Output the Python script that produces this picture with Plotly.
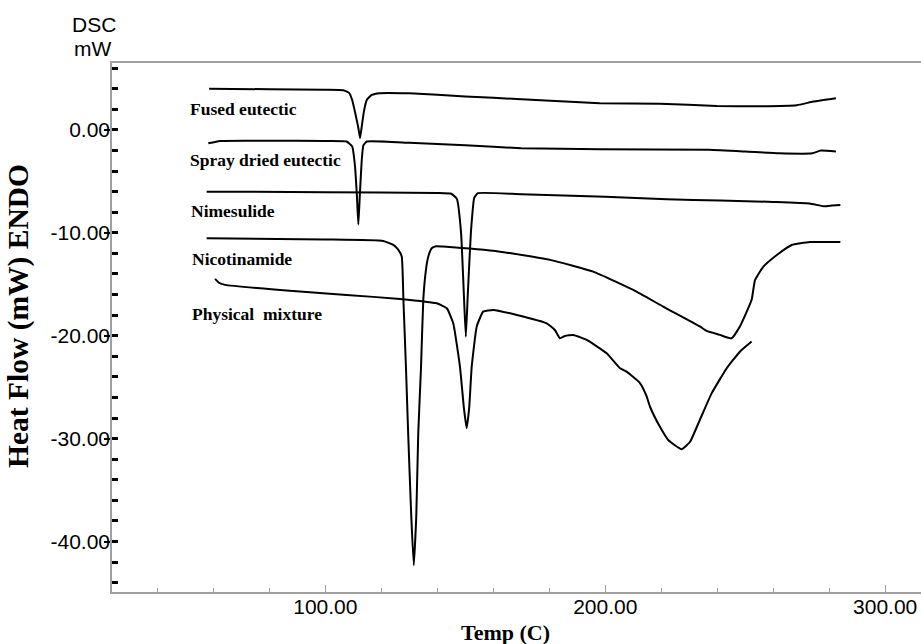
import plotly.graph_objects as go

# ---- data (Temp in C, Heat flow in mW) ----
series_names = ["Fused eutectic", "Spray dried eutectic", "Nimesulide",
                "Nicotinamide", "Physical  mixture"]

fused_x = [58.5, 80, 100, 106.4, 108.5, 109.6, 110.8, 111.8, 112.4, 113.0, 113.8, 114.8, 116.6, 119.5,
           130, 150, 170, 198, 219.5, 239.8, 255, 268.4, 274.3, 282.4]
fused_y = [4.0, 3.95, 3.9, 3.86, 3.6, 2.9, 1.5, 0.2, -0.8, 0.3, 1.8, 2.9, 3.4, 3.57,
           3.55, 3.25, 2.98, 2.6, 2.55, 2.33, 2.3, 2.4, 2.75, 3.08]

spray_x = [58.2, 62.4, 80, 100, 107.6, 109.6, 110.6, 111.3, 111.8, 112.3, 113.0, 113.6, 114.8,
           130, 150, 170, 198, 237, 250, 262, 274, 277, 282.4]
spray_y = [-1.3, -1.07, -1.05, -1.08, -1.13, -1.6, -3.5, -6.5, -9.2, -6.5, -3.0, -1.5, -1.13,
           -1.25, -1.5, -1.78, -1.88, -1.94, -2.1, -2.27, -2.27, -2.0, -2.1]

nime_x = [57.6, 100, 140, 145, 147, 148.5, 149.5, 150.2, 150.9, 152.0, 153.2, 154.5,
          170, 200, 222, 241, 260, 273, 278, 281, 284]
nime_y = [-6.0, -6.05, -6.12, -6.2, -6.7, -10.0, -16.0, -20.1, -16.0, -10.0, -6.6, -6.15,
          -6.25, -6.5, -6.75, -6.85, -7.0, -7.15, -7.42, -7.35, -7.29]

nico_x = [57.6, 100, 120.7, 124.3, 126.1, 127.3, 127.9, 128.8, 129.6, 130.7, 131.6, 132.5, 133.2,
          134.2, 135.0, 136.0, 136.8, 138.0, 139.5, 142.1, 162.4, 180.3, 195.7, 210, 220.7, 233.8,
          236.2, 241, 245.1, 248.1, 252.3, 253.5, 256.5, 261.3, 266.6, 273.1, 284]
nico_y = [-10.53, -10.65, -10.79, -11.18, -11.66, -12.3, -16.5, -23.0, -29.5, -37.5, -42.3, -37.5, -29.5,
          -23.0, -16.5, -13.5, -12.3, -11.5, -11.3, -11.34, -11.83, -12.63, -13.77, -15.55, -17.17, -19.1,
          -19.53, -19.92, -20.25, -19.1, -16.5, -14.6, -13.28, -12.15, -11.18, -10.9, -10.9]

phys_x = [60.6, 62.0, 64.2, 90.9, 107.6, 126.7, 139.8, 143.4, 145.7, 148.1, 149.5, 150.5, 151.4,
          152.3, 154.1, 156.4, 160, 168.4, 179.1, 182, 183.8, 185.6, 188.6, 193.4, 200.5, 205.3,
          207.6, 212.4, 214.8, 216.0, 219.5, 222.5, 227.3, 230.3, 233.8, 238, 243.4, 248.1, 252.3]
phys_y = [-14.48, -14.85, -15.06, -15.71, -16.04, -16.42, -16.85, -17.33, -18.79, -23.0, -27.0, -28.99, -27.0,
          -23.0, -19.1, -17.66, -17.49, -17.98, -18.79, -19.44, -20.24, -20.02, -19.92, -20.41, -21.7, -23.16,
          -23.49, -24.6, -25.9, -26.9, -28.83, -30.13, -31.03, -30.3, -28.18, -25.6, -23.16, -21.55, -20.57]

all_x = [fused_x, spray_x, nime_x, nico_x, phys_x]
all_y = [fused_y, spray_y, nime_y, nico_y, phys_y]

x_tickvals = [100, 200, 300]
x_ticktext = ["100.00", "200.00", "300.00"]
y_tickvals = [0, -10, -20, -30, -40]
y_ticktext = ["0.00", "-10.00", "-20.00", "-30.00", "-40.00"]

# ---- layout geometry (pixels) ----
W, H = 921, 644
L, R, T, B = 112, 0, 63, 52
PW, PH = W - L - R, H - T - B


def px(xp):
    return (xp - L) / PW


def py(yp):
    return (H - B - yp) / PH


fig = go.Figure()
for name, xs, ys in zip(series_names, all_x, all_y):
    fig.add_trace(go.Scatter(x=xs, y=ys, mode="lines", name=name,
                             line=dict(color="black", width=2, shape="spline", smoothing=0.4),
                             showlegend=False, hoverinfo="skip"))

serif = "Liberation Serif, Times New Roman, serif"
sans = "Liberation Sans, Arial, Helvetica, sans-serif"

label_pos = [(187.5, 108.5), (187.5, 160), (188.5, 211), (190, 259), (189.5, 313.5)]
annotations = []
for name, (lx, ly) in zip(series_names, label_pos):
    annotations.append(dict(text="<b>%s</b>" % name.replace("  ", "&nbsp; "), xref="paper", yref="paper",
                            x=px(lx), y=py(ly), xanchor="left", yanchor="middle", showarrow=False,
                            font=dict(family=serif, size=17.5, color="black")))

annotations += [
    dict(text="DSC", xref="paper", yref="paper", x=px(94), y=py(25), xanchor="center", yanchor="middle",
         showarrow=False, font=dict(family=sans, size=21, color="black")),
    dict(text="mW", xref="paper", yref="paper", x=px(92), y=py(49), xanchor="center", yanchor="middle",
         showarrow=False, font=dict(family=sans, size=21, color="black")),
    dict(text="<b>Temp (C)</b>", xref="paper", yref="paper", x=px(505), y=py(632), xanchor="center",
         yanchor="middle", showarrow=False, font=dict(family=serif, size=22, color="black")),
    dict(text="<b>Heat Flow (mW) ENDO</b>", xref="paper", yref="paper", x=px(18), y=py(316),
         xanchor="center", yanchor="middle", textangle=-90, showarrow=False,
         font=dict(family=serif, size=29.5, color="black")),
]

fig.update_layout(
    width=W, height=H,
    margin=dict(l=L, r=R, t=T, b=B, pad=0),
    paper_bgcolor="white", plot_bgcolor="white",
    annotations=annotations,
    xaxis=dict(range=[23.8, 312.8], tickvals=x_tickvals, ticktext=x_ticktext,
               showgrid=False, zeroline=False, showline=True, linecolor="#a0a0a0", linewidth=1.5,
               mirror=True, ticks="inside", ticklen=7, tickwidth=1, tickcolor="#a0a0a0",
               ticklabelstandoff=-5,
               tickfont=dict(family=sans, size=21, color="black"),
               minor=dict(dtick=20, tick0=0, ticks="inside", ticklen=4, tickwidth=1, tickcolor="#a0a0a0",
                          showgrid=False)),
    yaxis=dict(range=[-44.9, 6.5], tickvals=y_tickvals, ticktext=y_ticktext,
               showgrid=False, zeroline=False, showline=True, linecolor="#a0a0a0", linewidth=1.5,
               ticks="outside", ticklen=6, tickwidth=1.5, tickcolor="black", ticklabelstandoff=-10,
               tickfont=dict(family=sans, size=21, color="black"),
               minor=dict(dtick=2, tick0=0, ticks="inside", ticklen=6, tickwidth=2.5, tickcolor="black",
                          showgrid=False)),
)

fig.write_html("out.html")
